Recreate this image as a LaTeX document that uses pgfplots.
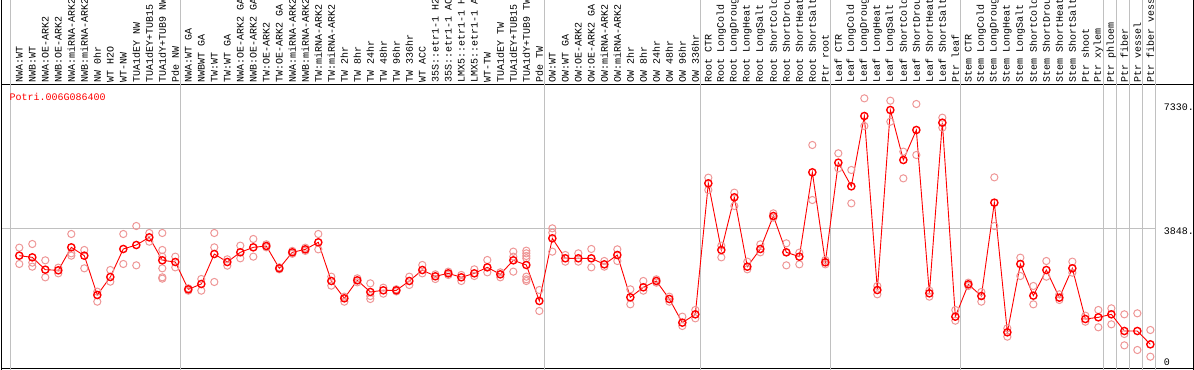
\documentclass[border=0pt]{standalone}
\usepackage{fontspec}
\setmainfont{Liberation Mono}
\setmonofont{Liberation Mono}
\usepackage{pgfplots}
\usepackage{pgfplotstable}
\pgfplotsset{compat=1.18}
\definecolor{sepgray}{RGB}{192,192,192}
\definecolor{reppink}{RGB}{238,150,150}
\newcommand{\lab}{\fontsize{10.04pt}{12pt}\selectfont}
\pgfplotstableread{
x y
0 3300
0 2845
1 3402
1 2882
1 2770
2 2947
2 2473
3 2742
3 2584
4 3681
4 3142
4 3077
5 3235
5 2724
6 2073
6 1794
7 2677
7 2352
8 3681
8 2845
9 3904
9 2807
10 3709
10 3467
11 3709
11 3235
11 3049
11 2724
11 2473
11 2436
12 3049
12 2751
13 2166
13 2101
14 2426
14 2101
15 3709
15 3309
15 2343
16 2975
16 2798
17 3356
17 3003
18 3542
18 3049
19 3393
19 3309
20 2751
20 2696
21 3210
21 3130
22 3300
22 3210
23 3681
23 3253
24 2491
24 2240
25 1934
25 1794
26 2445
26 2333
27 2305
27 1869
27 1952
28 2184
28 2017
29 2140
29 2080
30 2491
30 2259
31 2817
31 2584
32 2556
32 2426
33 2631
33 2538
34 2538
34 2371
35 2696
35 2510
36 2956
36 2612
37 2612
37 2473
38 3189
38 3049
38 2631
39 3216
39 3142
39 3068
39 3003
39 2491
39 2417
39 2371
40 2119
40 1534
41 3839
41 3718
41 3189
42 3095
42 2910
43 3142
43 2910
44 3263
44 2751
45 2928
45 2770
46 3253
46 2928
47 2138
47 1720
48 2371
48 2101
49 2417
49 2324
50 1934
50 1794
51 1376
51 1116
52 1562
52 1329
53 5252
53 4908
54 3356
54 3030
55 4834
55 4462
56 2910
56 2696
57 3393
57 3170
58 4257
58 4137
59 3421
59 2807
60 3161
60 2835
61 6163
61 4629
62 2956
62 2835
63 5930
63 5512
64 5466
64 4536
65 7464
65 6693
66 2231
66 1999
67 7399
67 6813
68 5977
68 5233
69 7306
69 5884
70 2101
70 1934
71 6925
71 6646
72 1562
72 1264
73 2324
73 2231
74 2064
74 1794
75 5261
75 3904
76 1051
76 818
77 3021
77 2510
78 2231
78 1720
79 2928
79 2491
80 1999
80 1841
81 2910
81 2603
82 1404
82 1236
83 1562
83 1079
84 1608
84 1162
85 1441
85 893
85 576
86 1469
86 446
87 1004
87 260
}\reps
\pgfplotstableread{
x y
0 3077
1 3030
2 2686
3 2668
4 3309
5 3077
6 1980
7 2482
8 3263
9 3374
10 3588
11 2947
12 2900
13 2138
14 2287
15 3123
16 2900
17 3170
18 3309
19 3346
20 2724
21 3170
22 3253
23 3449
24 2371
25 1887
26 2389
27 2064
28 2110
29 2110
30 2371
31 2677
32 2501
33 2584
34 2473
35 2584
36 2751
37 2556
38 2947
39 2817
40 1813
41 3560
42 3003
43 3003
44 3003
45 2835
46 3095
47 1915
48 2194
49 2371
50 1869
51 1209
52 1441
53 5094
54 3235
55 4704
56 2770
57 3263
58 4183
59 3170
60 3049
61 5401
62 2891
63 5670
64 5010
65 6971
66 2119
67 7139
68 5745
69 6581
70 2026
71 6785
72 1376
73 2277
74 1952
75 4555
76 939
77 2844
78 1962
79 2677
80 1906
81 2724
82 1311
83 1357
84 1441
85 976
86 976
87 604
}\means
\begin{document}
\begin{tikzpicture}
\begin{axis}[
  at={(1.5bp,1bp)}, anchor=south west,
  scale only axis, width=1192bp, height=284bp,
  xmin=-1.369, xmax=90.323, ymin=-83.7, ymax=7836,
  clip=false,
  axis line style={black, line width=1bp},
  major tick length=0pt,
  xtick={0,...,87},
  xticklabel pos=upper,
  xticklabels={NWA:WT,NWB:WT,NWA:OE-ARK2,NWB:OE-ARK2,NWA:miRNA-ARK2,NWB:miRNA-ARK2,NW 0hr,WT H2O,WT-NW,TUA1dEY NW,TUA1dEY+TUB15,TUA1dY+TUB9 NW,Pde NW,
    NWA:WT GA,NWBWT GA,TW:WT,TW:WT GA,NWA:OE-ARK2 GA,NWB:OE-ARK2 GA,TW:OE-ARK2,TW:OE-ARK2 GA,NWA:miRNA-ARK2,NWB:miRNA-ARK2,TW:miRNA-ARK2,TW:miRNA-ARK2,TW 2hr,TW 8hr,TW 24hr,TW 48hr,TW 96hr,TW 336hr,WT ACC,35S::etr1-1 H2,35S::etr1-1 AC,LMX5::etr1-1 H,LMX5::etr1-1 A,WT-TW,TUA1dEY TW,TUA1dEY+TUB15,TUA1dY+TUB9 TW,Pde TW,
    OW:WT,OW:WT GA,OW:OE-ARK2,OW:OE-ARK2 GA,OW:miRNA-ARK2,OW:miRNA-ARK2,OW 2hr,OW 8hr,OW 24hr,OW 48hr,OW 96hr,OW 336hr,
    Root CTR,Root LongCold,Root LongDroug,Root LongHeat,Root LongSalt,Root ShortCold,Root ShortDrou,Root ShortHeat,Root ShortSalt,Ptr root,
    Leaf CTR,Leaf LongCold,Leaf LongDroug,Leaf LongHeat,Leaf LongSalt,Leaf ShortCold,Leaf ShortDrou,Leaf ShortHeat,Leaf ShortSalt,Ptr leaf,
    Stem CTR,Stem LongCold,Stem LongDroug,Stem LongHeat,Stem LongSalt,Stem ShortCold,Stem ShortDrou,Stem ShortHeat,Stem ShortSalt,Ptr shoot,Ptr xylem,
    Ptr phloem,Ptr fiber,Ptr vessel,Ptr fiber vess},
  xticklabel style={rotate=90, anchor=west, inner sep=0pt, font=\lab, xshift=0bp},
  xticklabel shift=2bp,
  ytick={3848,7330},
  yticklabels={3848.,7330.},
  yticklabel pos=right,
  yticklabel style={anchor=north west, inner sep=0pt, xshift=-30bp, font=\lab},
  yticklabel shift=0pt,
  extra y ticks={0},
  extra y tick labels={0},
  extra y tick style={yticklabel style={anchor=south west}},
  /pgf/number format/assume math mode=true,
]
\foreach \s in {-0.66,12.385,40.385,52.385,62.385,72.385,83.385,84.385,85.385,86.385,87.385}{
  \edef\tmp{\noexpand\draw[sepgray, line width=1bp] (axis cs:\s,-112) -- (axis cs:\s,10206);}
  \tmp
}
\draw[sepgray, line width=1bp] (axis cs:-1.369,3848) -- (axis cs:87.385,3848);
\addplot[only marks, mark=o, mark size=3.6bp, reppink, mark options={line width=1bp}] table[x=x,y=y] {\reps};
\addplot[red, line width=0.9bp, mark=o, mark size=3.6bp, mark options={line width=1.4bp, red}] table[x=x,y=y] {\means};
\node[red, anchor=west, inner sep=0pt, font=\lab] at (axis cs:-0.754,7510) {Potri.006G086400};
\end{axis}
\draw[black, line width=1bp] (1.5bp,0) -- (1.5bp,370bp);
\draw[black, line width=1bp] (1193.5bp,0) -- (1193.5bp,370bp);
\pgfresetboundingbox
\useasboundingbox (0,0) rectangle (1194bp,370bp);
\end{tikzpicture}
\end{document}
